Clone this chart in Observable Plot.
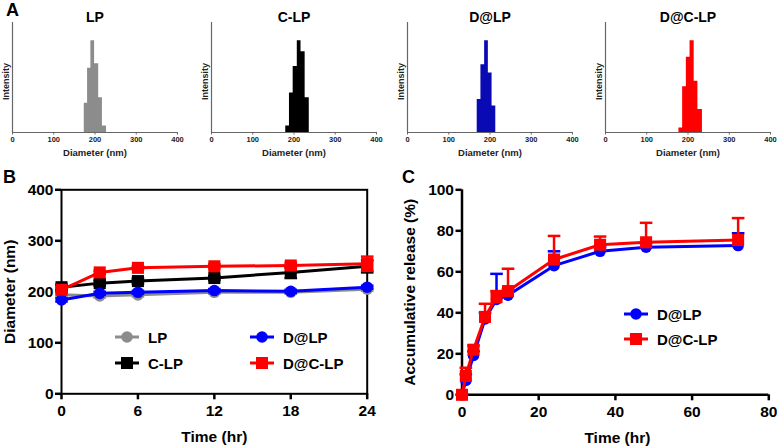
<!DOCTYPE html>
<html><head><meta charset="utf-8">
<script src="https://cdn.jsdelivr.net/npm/d3@7"></script>
<script src="https://cdn.jsdelivr.net/npm/@observablehq/plot@0.6"></script>
<style>
body{margin:0;background:#fff;}
#fig{position:relative;width:777px;height:448px;overflow:hidden;font-family:"Liberation Sans",Arial,sans-serif;font-weight:bold;color:#000;}
#fig > *{position:absolute;}
.plab{font-size:18px;line-height:1;}
.leg{display:flex;align-items:center;font-size:15px;line-height:1;white-space:nowrap;}
</style></head><body><div id="fig"></div>
<script>
// ---------- Panel A: size distributions ----------
const distNames = ["LP", "C-LP", "D@LP", "D@C-LP"];
const distColors = ["#8c8c8c", "#000000", "#0a0ab4", "#ff0000"];
const edgesLP = [174, 182, 190, 199, 209, 218, 228];
const intensLP = [32, 70, 100, 75, 38, 7];
const edgesCLP = [180, 189, 198, 208, 217, 227, 237];
const intensCLP = [7, 43, 72, 100, 88, 38];
const edgesDLP = [169, 178, 187, 196, 205, 214];
const intensDLP = [36, 74, 100, 65, 29];
const edgesDCLP = [178, 187, 196, 205, 215, 224, 235];
const intensDCLP = [5, 50, 82, 100, 56, 25];
const diamTicks = [0, 100, 200, 300, 400];

// ---------- Panel B: diameter over time ----------
const diaTimes = [0, 3, 6, 12, 18, 24];
const diaLP = [194, 192, 194, 199, 199, 205];
const diaLPErr = [3, 3, 3, 3, 3, 3];
const diaCLP = [209, 217, 221, 227, 238, 250];
const diaCLPErr = [5, 5, 5, 4, 11, 12];
const diaDLP = [184, 197, 199, 202.5, 201, 209];
const diaDLPErr = [3, 3, 3, 3, 3, 3];
const diaDCLP = [204, 238, 247, 250, 251.6, 255];
const diaDCLPErr = [4, 3, 3, 4, 5, 14];
const diaYTicks = [0, 100, 200, 300, 400];
const diaXTicks = [0, 6, 12, 18, 24];

// ---------- Panel C: cumulative release ----------
const relTimes = [0, 1, 3, 6, 9, 12, 24, 36, 48, 72];
const relDLP = [0, 7, 19.2, 37, 46.5, 48.6, 63, 70, 72, 72.8];
const relDLPErr = [0, 3, 2, 3, 12.5, 3, 7, 2, 2, 6];
const relDCLP = [0, 9.2, 22, 38, 47.6, 50.6, 66, 73.2, 74.4, 75.5];
const relDCLPErr = [0, 4, 2, 6.4, 3, 10.9, 11.5, 4, 9.5, 10.7];
const relYTicks = [0, 20, 40, 60, 80, 100];
const relXTicks = [0, 20, 40, 60, 80];

const FONT = '"Liberation Sans", Arial, sans-serif';
const fig = document.getElementById("fig");
function place(el, left, top) { el.style.left = left + "px"; el.style.top = top + "px"; fig.appendChild(el); return el; }

// cap symbol for error bars
const capSymbol = { draw(ctx, size) { const w = Math.sqrt(size / Math.PI); ctx.moveTo(-w, 0); ctx.lineTo(w, 0); } };

// ---------- Panel A ----------
const distEdges = [edgesLP, edgesCLP, edgesDLP, edgesDCLP];
const distInt = [intensLP, intensCLP, intensDLP, intensDCLP];
const axisLeft = [12, 210.7, 407, 605];
distNames.forEach((name, i) => {
  const e = distEdges[i];
  const v = distInt[i];
  // histogram outline: one step per bin (contiguous bars)
  const steps = e.map((x, j) => ({ x, v: v[Math.min(j, v.length - 1)] }));
  const p = Plot.plot({
    width: 14 + 165 + 12, height: 160,
    marginLeft: 14, marginRight: 12, marginTop: 22, marginBottom: 28,
    x: { domain: [0, 400] }, y: { domain: [0, 120] },
    style: { fontFamily: FONT, fontWeight: "bold", fontSize: "7.5px", color: "#333", background: "transparent", overflow: "visible" },
    marks: [
      Plot.areaY(steps, { x: "x", y: "v", curve: "step-after", fill: distColors[i] }),
      Plot.ruleY([0], { stroke: "#666", strokeWidth: 1.2 }),
      Plot.ruleX([0], { stroke: "#666", strokeWidth: 1.2 }),
      Plot.axisX({ ticks: diamTicks, tickSize: 2.5, tickPadding: 1.5, stroke: "#666", label: null, fill: "#222" }),
      Plot.axisY({ ticks: [], label: null }),
      Plot.text([name], { text: d => d, frameAnchor: "top", lineAnchor: "middle", textAnchor: "middle", dy: -5, fontSize: 14, fill: "#000" }),
      Plot.text(["Intensity"], { text: d => d, frameAnchor: "left", lineAnchor: "middle", textAnchor: "middle", rotate: -90, dx: -6.5, dy: 4, fontSize: 9, fill: "#222" }),
      Plot.text(["Diameter (nm)"], { text: d => d, frameAnchor: "bottom", lineAnchor: "middle", textAnchor: "middle", dy: 20.5, fontSize: 9.5, fill: "#222" })
    ]
  });
  place(p, axisLeft[i] - 14, 0);
});

// ---------- Panel B ----------
function rows(xs, ys, es) { return xs.map((x, i) => ({ x, y: ys[i], e: es[i] })); }
const bSeries = [
  { name: "LP", color: "#8c8c8c", sym: "circle", data: rows(diaTimes, diaLP, diaLPErr) },
  { name: "C-LP", color: "#000000", sym: "square", data: rows(diaTimes, diaCLP, diaCLPErr) },
  { name: "D@LP", color: "#0000ff", sym: "circle", data: rows(diaTimes, diaDLP, diaDLPErr) },
  { name: "D@C-LP", color: "#ff0000", sym: "square", data: rows(diaTimes, diaDCLP, diaDCLPErr) }
];
function seriesMarks(s, both) {
  const r = s.sym === "square" ? 6.8 : 5.8;
  const m = [
    Plot.ruleX(s.data, { x: "x", y1: d => both ? d.y - d.e : d.y, y2: d => d.y + d.e, stroke: s.color, strokeWidth: 2.5 }),
    Plot.dot(s.data, { x: "x", y: d => d.y + d.e, symbol: capSymbol, r: 6.3, stroke: s.color, fill: "none", strokeWidth: 2.5 })
  ];
  if (both) m.push(Plot.dot(s.data, { x: "x", y: d => d.y - d.e, symbol: capSymbol, r: 6.3, stroke: s.color, fill: "none", strokeWidth: 2.5 }));
  m.push(Plot.line(s.data, { x: "x", y: "y", stroke: s.color, strokeWidth: 3 }));
  m.push(Plot.dot(s.data, { x: "x", y: "y", symbol: s.sym, r, fill: s.color, stroke: "none" }));
  return m;
}
const pB = Plot.plot({
  width: 380, height: 288,
  marginLeft: 61, marginRight: 13.3, marginTop: 29.3, marginBottom: 54.7,
  x: { domain: [0, 24] }, y: { domain: [0, 400] },
  style: { fontFamily: FONT, fontWeight: "bold", fontSize: "15.5px", color: "#000", background: "transparent", overflow: "visible" },
  marks: [
    Plot.frame({ stroke: "#000", strokeWidth: 2 }),
    Plot.axisY({ ticks: diaYTicks, tickSize: 6, tickPadding: 2, strokeWidth: 2.5, label: null }),
    Plot.axisX({ ticks: diaXTicks, tickSize: 6, tickPadding: 5, strokeWidth: 2.5, label: null }),
    ...bSeries.flatMap(s => seriesMarks(s, true)),
    Plot.text(["Diameter (nm)"], { text: d => d, frameAnchor: "left", lineAnchor: "middle", textAnchor: "middle", rotate: -90, dx: -51, fontSize: 15.5 }),
    Plot.text(["Time (hr)"], { text: d => d, frameAnchor: "bottom", lineAnchor: "middle", textAnchor: "middle", dy: 43.7, fontSize: 15.5 })
  ]
});
place(pB, 0, 160);

// ---------- Panel C ----------
const cSeries = [
  { name: "D@LP", color: "#0000ff", sym: "circle", data: rows(relTimes, relDLP, relDLPErr) },
  { name: "D@C-LP", color: "#ff0000", sym: "square", data: rows(relTimes, relDCLP, relDCLPErr) }
];
const pC = Plot.plot({
  width: 387, height: 288,
  marginLeft: 71.5, marginRight: 8.7, marginTop: 29.3, marginBottom: 53.7,
  x: { domain: [0, 80] }, y: { domain: [0, 100] },
  style: { fontFamily: FONT, fontWeight: "bold", fontSize: "15.5px", color: "#000", background: "transparent", overflow: "visible" },
  marks: [
    Plot.ruleY([0], { stroke: "#000", strokeWidth: 2.5 }),
    Plot.ruleX([0], { stroke: "#000", strokeWidth: 2.5 }),
    Plot.axisY({ ticks: relYTicks, tickSize: 6, tickPadding: 2, strokeWidth: 2.5, label: null }),
    Plot.axisX({ ticks: relXTicks, tickSize: 6, tickPadding: 5, strokeWidth: 2.5, label: null }),
    ...cSeries.flatMap(s => seriesMarks(s, false)),
    Plot.text(["Accumulative release (%)"], { text: d => d, frameAnchor: "left", lineAnchor: "middle", textAnchor: "middle", rotate: -90, dx: -51.5, fontSize: 15.5 }),
    Plot.text(["Time (hr)"], { text: d => d, frameAnchor: "bottom", lineAnchor: "middle", textAnchor: "middle", dx: 2, dy: 43, fontSize: 15.5 })
  ]
});
place(pC, 390, 160);

// ---------- Legends ----------
function legendItem(s, left, cy) {
  const d = document.createElement("div");
  d.className = "leg";
  const sq = s.sym === "square";
  const mk = sq ? `<rect x="6" y="3" width="12" height="12" fill="${s.color}"/>` : `<circle cx="12" cy="9" r="5.8" fill="${s.color}"/>`;
  d.innerHTML = `<svg width="24" height="18" style="display:block"><line x1="0" x2="24" y1="9" y2="9" stroke="${s.color}" stroke-width="3"/>${mk}</svg><span style="margin-left:9px">${s.name}</span>`;
  place(d, left, cy - 9);
  return d;
}
legendItem(bSeries[0], 115, 337);
legendItem(bSeries[1], 115, 363);
legendItem(bSeries[2], 250, 337);
legendItem(bSeries[3], 250, 363);
legendItem(cSeries[0], 624, 314);
legendItem(cSeries[1], 624, 339);

// ---------- Panel letters ----------
const la = document.createElement("div"); la.className = "plab"; la.textContent = "A"; place(la, 6, 1);
const lb = document.createElement("div"); lb.className = "plab"; lb.textContent = "B"; place(lb, 3, 168);
const lc = document.createElement("div"); lc.className = "plab"; lc.textContent = "C"; place(lc, 402, 168);
</script></body></html>
